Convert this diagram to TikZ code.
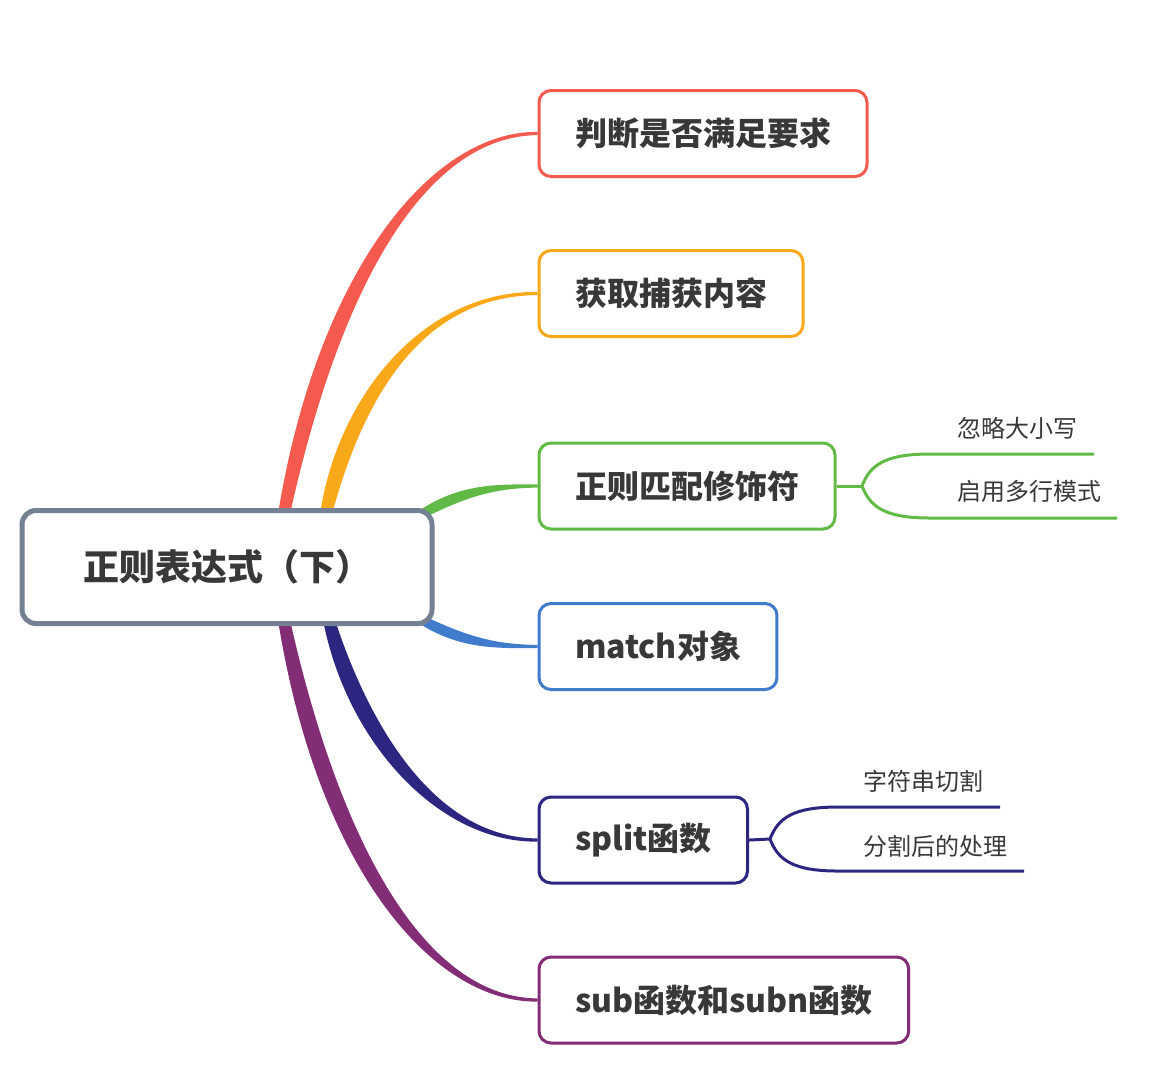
\documentclass[tikz,border=0pt]{standalone}
\usepackage{fontspec}
\usepackage{xcolor}
\usepackage{tikz}
\usetikzlibrary{backgrounds}
\newfontfamily\cjk{Noto Sans CJK SC}
\definecolor{cRed}{HTML}{F55A4F}
\definecolor{cOrange}{HTML}{F9A81A}
\definecolor{cGreen}{HTML}{62BA46}
\definecolor{cBlue}{HTML}{407BCC}
\definecolor{cNavy}{HTML}{2D2681}
\definecolor{cPurple}{HTML}{822D75}
\definecolor{cGray}{HTML}{748094}
\definecolor{txt}{HTML}{383838}

\begin{document}
\begin{tikzpicture}[
    x=0.5pt, y=-0.5pt,
    font=\cjk,
    root/.style={draw=cGray, line width=2.5pt, rounded corners=7pt, fill=white, text=txt, minimum width=205pt, minimum height=56.5pt, font=\cjk\bfseries\fontsize{18}{22}\selectfont},
    topic/.style={draw, line width=1.5pt, rounded corners=6pt, fill=white, text=txt, anchor=west, inner xsep=18pt, minimum height=43pt, font=\cjk\bfseries\fontsize{16}{19}\selectfont},
    leaf/.style={anchor=west, inner sep=0pt, text=txt, font=\cjk\fontsize{12}{14}\selectfont},
    subline/.style={line width=1.5pt}
]
\useasboundingbox (0,0) rectangle (1154,1078);

% central topic
\node[root] (root) at (227,567) {正则表达式（下）};

% main topics
\node[topic, draw=cRed] (n1) at (537.5,133.5) {判断是否满足要求};
\node[topic, draw=cOrange] (n2) at (537.5,293.5) {获取捕获内容};
\node[topic, draw=cGreen] (n3) at (537.5,486) {正则匹配修饰符};
\node[topic, draw=cBlue] (n4) at (537.5,646.5) {match对象};
\node[topic, draw=cNavy] (n5) at (537.5,840) {split函数};
\node[topic, draw=cPurple] (n6) at (537.5,1000) {sub函数和subn函数};

% subtopics
\node[leaf] (s1) at (957,428) {忽略大小写};
\node[leaf] (s2) at (957,491) {启用多行模式};
\node[leaf] (s3) at (863,781) {字符串切割};
\node[leaf] (s4) at (863,846) {分割后的处理};

% branch roots on the central topic
\coordinate (r1) at (284,514);
\coordinate (r2) at (326,514);
\coordinate (r3) at (418,516);
\coordinate (r4) at (418,618);
\coordinate (r5) at (329,620);
\coordinate (r6) at (284,620);

\begin{scope}[on background layer]
\fill[cRed] ([xshift=-3pt]r1) .. controls (317,274) and (430,131) .. ([yshift=0.8pt]n1.west)
  -- ([yshift=-0.8pt]n1.west) .. controls (430,136) and (343,274) .. ([xshift=3pt]r1) -- cycle;
\fill[cOrange] ([xshift=-3pt]r2) .. controls (337,400) and (420,291) .. ([yshift=0.8pt]n2.west)
  -- ([yshift=-0.8pt]n2.west) .. controls (420,296) and (363,400) .. ([xshift=3pt]r2) -- cycle;
\fill[cGreen] ([yshift=2.4pt]r3) .. controls (458,485) and (490,484) .. ([yshift=0.8pt]n3.west)
  -- ([yshift=-0.8pt]n3.west) .. controls (490,488) and (462,499) .. ([yshift=-2.4pt]r3) -- cycle;
\fill[cBlue] ([yshift=2.4pt]r4) .. controls (462,634) and (490,644.5) .. ([yshift=0.8pt]n4.west)
  -- ([yshift=-0.8pt]n4.west) .. controls (490,648.5) and (458,648) .. ([yshift=-2.4pt]r4) -- cycle;
\fill[cNavy] ([xshift=-3pt]r5) .. controls (347,744) and (440,843) .. ([yshift=-0.8pt]n5.west)
  -- ([yshift=0.8pt]n5.west) .. controls (440,838) and (373,736) .. ([xshift=3pt]r5) -- cycle;
\fill[cPurple] ([xshift=-3pt]r6) .. controls (317,864) and (430,1002.5) .. ([yshift=-0.8pt]n6.west)
  -- ([yshift=0.8pt]n6.west) .. controls (430,997.5) and (343,856) .. ([xshift=3pt]r6) -- cycle;
\end{scope}

% subtopic lines
\coordinate (j3) at (862,486);
\coordinate (u1) at (1094,454);
\coordinate (u2) at (1117,518);
\coordinate (j5) at (770,839);
\coordinate (u3) at (1000,807);
\coordinate (u4) at (1024,871);

\draw[subline, cGreen] (n3.east) -- (j3);
\draw[subline, cGreen] (j3) .. controls (870,465) and (885,454) .. (930,454) -- (u1);
\draw[subline, cGreen] (j3) .. controls (870,507) and (885,518) .. (930,518) -- (u2);
\draw[subline, cNavy] (n5.east) -- (j5);
\draw[subline, cNavy] (j5) .. controls (778,818) and (793,807) .. (838,807) -- (u3);
\draw[subline, cNavy] (j5) .. controls (778,860) and (793,871) .. (838,871) -- (u4);
\end{tikzpicture}
\end{document}
